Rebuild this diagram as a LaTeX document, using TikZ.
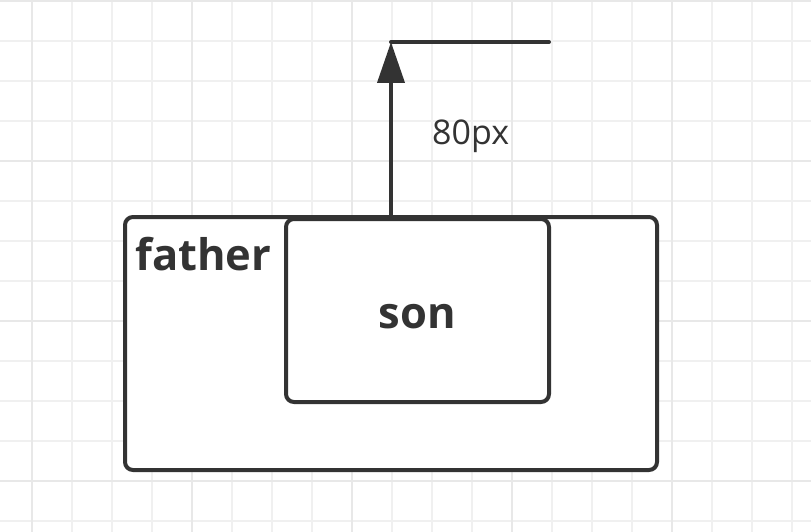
\documentclass[tikz,border=0pt]{standalone}
\usepackage{fontspec}
\setmainfont{Open Sans}
\usetikzlibrary{arrows.meta}
\definecolor{ink}{HTML}{333333}
\definecolor{gridminor}{HTML}{F0F0F0}
\definecolor{gridmajor}{HTML}{E8E8E8}
\tikzset{
  boxstyle/.style={draw=ink, line width=4pt, rounded corners=8pt, fill=white, inner sep=0pt},
  boldlabel/.style={text=ink, font=\fontsize{43.5}{48}\selectfont\bfseries, inner sep=0pt},
  dimlabel/.style={text=ink, font=\fontsize{34}{40}\selectfont, inner sep=0pt},
  conn/.style={draw=ink, line width=4pt},
}
\begin{document}
\begin{tikzpicture}[x=1pt,y=-1pt]
\useasboundingbox (0,0) rectangle (811,532);
\fill[white] (0,0) rectangle (811,532);
% grid
\foreach \gx in {32,72,...,792} {\draw[gridminor, line width=1.2pt] (\gx,0) -- (\gx,532);}
\foreach \gy in {1,41,...,521} {\draw[gridminor, line width=1.2pt] (0,\gy) -- (811,\gy);}
\foreach \gx in {32,192,352,512,672} {\draw[gridmajor, line width=1.5pt] (\gx,0) -- (\gx,532);}
\foreach \gy in {1,161,321,481} {\draw[gridmajor, line width=1.5pt] (0,\gy) -- (811,\gy);}
% boxes
\node[boxstyle, minimum width=532pt, minimum height=253pt] (father) at (391,343.5) {};
\node[boxstyle, minimum width=263pt, minimum height=183pt] (son) at (417.5,310.5) {};
\node[boldlabel, anchor=base west] (fatherlabel) at (135,270) {father};
\node[boldlabel, anchor=base] (sonlabel) at (417.5,328) {son};
% dimension
\coordinate (top) at (391,42);
\coordinate (topend) at (549,42);
\coordinate (base) at (391,219);
\draw[conn, -{Triangle[length=41pt,width=27pt]}] (base) -- (top);
\draw[conn, line cap=round] (top) -- (topend);
\node[dimlabel, anchor=base west] (dim) at (432,144) {80px};
\end{tikzpicture}
\end{document}
